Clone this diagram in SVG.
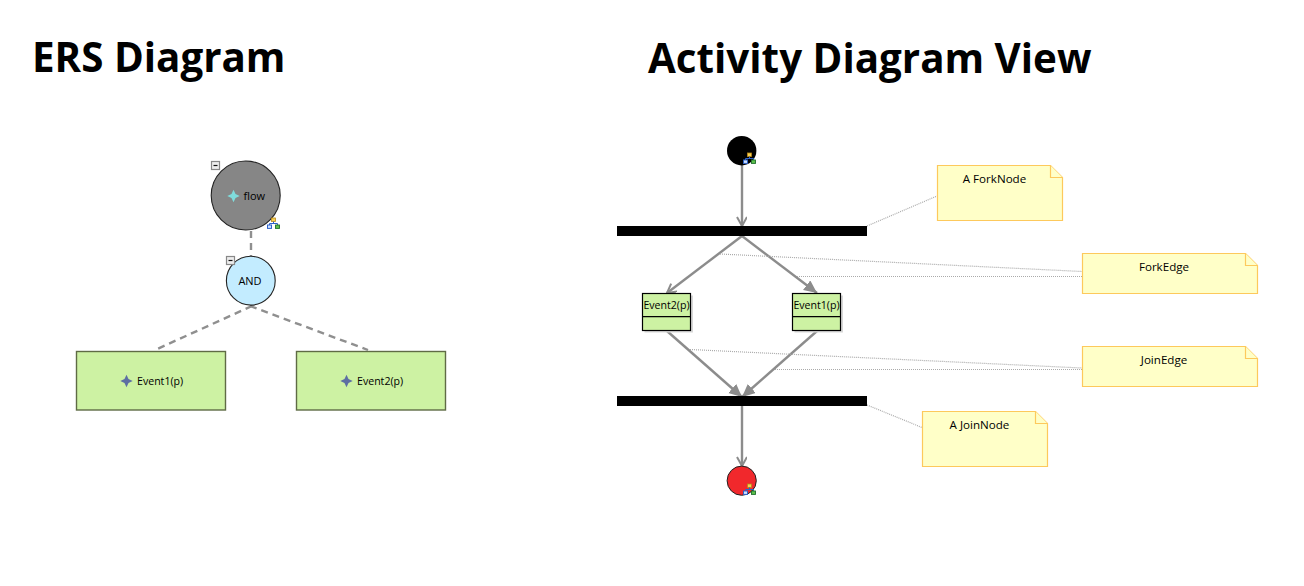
<svg xmlns="http://www.w3.org/2000/svg" width="1304" height="586" viewBox="0 0 1304 586">
<defs>
<style>
text{font-family:"Open Sans","Noto Sans","Liberation Sans",sans-serif;font-size:11px;fill:#000}
.title{font-size:40.35px;font-weight:700;fill:#000}
.nt{font-size:11.6px}
.ev{font-size:10.6px}
.edge{stroke:#8c8c8c;stroke-width:2.4;fill:none}
.dash{stroke:#8f8f8f;stroke-width:2.4;stroke-dasharray:7 5;fill:none}
.dot{stroke:#aaa;stroke-width:1.2;stroke-dasharray:1 1;fill:none}
.ers{fill:#cdf2a3;stroke:#5f6b45;stroke-width:1.4}
.evt{fill:#cdf2a3;stroke:#000;stroke-width:1.2}
.sh{fill:#d8d8d8}
.note{fill:#ffffc8;stroke:#fdc95c;stroke-width:1.2}
.bar{fill:#000}
.mn{fill:#eee;stroke:#888;stroke-width:1.2}
</style>
<marker id="arr" markerWidth="12" markerHeight="12" refX="10" refY="5" orient="auto" markerUnits="userSpaceOnUse"><path d="M1 0L10 5L1 10" fill="none" stroke="#8c8c8c" stroke-width="2"/></marker>
<marker id="arf" markerWidth="16" markerHeight="14" refX="13" refY="6" orient="auto" markerUnits="userSpaceOnUse"><path d="M0 0L13 6L0 12Z" fill="#8c8c8c"/></marker>
<g id="hier"><rect x="0" y="0" width="4" height="3.5" fill="#f6d050" stroke="#b8861a" stroke-width=".8"/><path d="M2 3.5V5.5M-2 7.5V5.5H6V7.5" fill="none" stroke="#2f62c8" stroke-width="1"/><rect x="-4" y="7" width="4" height="3.4" fill="#cfe2ff" stroke="#2f62c8" stroke-width="1"/><rect x="4" y="7" width="4" height="3.4" fill="#5cc04c" stroke="#1f6d2b" stroke-width=".9"/></g>
<path id="star" d="M0-6.2L2-2L6.2 0L2 2L0 6.2L-2 2L-6.2 0L-2-2Z"/>
</defs>
<rect width="1304" height="586" fill="#fff"/>
<text class="title" x="32" y="72">ERS Diagram</text>
<text class="title" x="648" y="73">Activity Diagram View</text>
<g id="connectors">
<path class="dash" d="M251 231V256"/>
<path class="dash" d="M252 306L155 350"/>
<path class="dash" d="M250 306L368 350"/>
<path class="edge" marker-end="url(#arr)" d="M742 165V226"/>
<path class="edge" marker-end="url(#arr)" d="M742 236L667 293"/>
<path class="edge" marker-end="url(#arf)" d="M742 236L817 293"/>
<path class="edge" marker-end="url(#arf)" d="M667 331L742 397"/>
<path class="edge" marker-end="url(#arf)" d="M817 331L742 397"/>
<path class="edge" marker-end="url(#arr)" d="M742 406V466"/>
<path class="dot" d="M867 226L937 196"/>
<path class="dot" d="M720 254L1082 271.5"/>
<path class="dot" d="M797 276.5H1082"/>
<path class="dot" d="M690 349.5L1082 368"/>
<path class="dot" d="M775 369.5H1082"/>
<path class="dot" d="M867 405L922 427.5"/>
</g>
<g id="flow">
<circle cx="245.7" cy="195.5" r="34.5" fill="#868686" stroke="#222" stroke-width="1.1"/>
<rect class="mn" x="211.5" y="161.5" width="8" height="8"/><path d="M213.5 165.5h4" stroke="#111" stroke-width="1.2"/>
<use href="#star" x="233.5" y="196" fill="#7fdcdc"/>
<text x="243.5" y="199.5">flow</text>
<use href="#hier" x="271.5" y="218"/>
</g>
<g id="and">
<circle cx="250.8" cy="280.7" r="24.4" fill="#c3ecff" stroke="#222" stroke-width="1.1"/>
<rect class="mn" x="226.5" y="256.5" width="8" height="8"/><path d="M228.5 260.5h4" stroke="#111" stroke-width="1.2"/>
<text x="250" y="284.5" text-anchor="middle">AND</text>
</g>
<g id="ers-event1">
<rect class="ers" x="76.5" y="351.5" width="149" height="58.5"/>
<use href="#star" x="126.5" y="381" fill="#5d6fa3"/>
<text class="ev" x="137" y="385">Event1(p)</text>
</g>
<g id="ers-event2">
<rect class="ers" x="296.5" y="351.5" width="149" height="58.5"/>
<use href="#star" x="346.5" y="381" fill="#5d6fa3"/>
<text class="ev" x="357" y="385">Event2(p)</text>
</g>
<g id="initial">
<circle cx="741.7" cy="150.7" r="14.7" fill="#000"/>
<use href="#hier" x="747.5" y="153"/>
</g>
<g id="fork"><rect class="bar" x="617" y="226" width="250" height="10"/></g>
<g id="activity-event2">
<rect class="sh" x="644.5" y="295.5" width="48.5" height="37"/>
<rect class="evt" x="642.5" y="293.5" width="48" height="37"/>
<path d="M642.5 316.7H690.5" stroke="#000" stroke-width="1.2"/>
<text class="ev" x="666.5" y="309" text-anchor="middle">Event2(p)</text>
</g>
<g id="activity-event1">
<rect class="sh" x="794.5" y="295.5" width="48.5" height="37"/>
<rect class="evt" x="792.5" y="293.5" width="48" height="37"/>
<path d="M792.5 316.7H840.5" stroke="#000" stroke-width="1.2"/>
<text class="ev" x="816.5" y="309" text-anchor="middle">Event1(p)</text>
</g>
<g id="join"><rect class="bar" x="617" y="396" width="250" height="10"/></g>
<g id="final">
<circle cx="741.7" cy="480.7" r="14.6" fill="#f1282c" stroke="#222" stroke-width="1"/>
<use href="#hier" x="747.5" y="484"/>
</g>
<g id="note-forknode">
<path class="note" d="M937.5 165.5H1050.5L1062.5 177.5V220.5H937.5Z"/><path class="note" d="M1050.5 165.5V177.5H1062.5"/>
<text class="nt" x="994.5" y="183" text-anchor="middle">A ForkNode</text>
</g>
<g id="note-forkedge">
<path class="note" d="M1082.5 253.5H1245.5L1257.5 265.5V293.5H1082.5Z"/><path class="note" d="M1245.5 253.5V265.5H1257.5"/>
<text class="nt" x="1164" y="271" text-anchor="middle">ForkEdge</text>
</g>
<g id="note-joinedge">
<path class="note" d="M1082.5 346.5H1245.5L1257.5 358.5V386.5H1082.5Z"/><path class="note" d="M1245.5 346.5V358.5H1257.5"/>
<text class="nt" x="1164" y="364" text-anchor="middle">JoinEdge</text>
</g>
<g id="note-joinnode">
<path class="note" d="M922.5 411.5H1035.5L1047.5 423.5V466.5H922.5Z"/><path class="note" d="M1035.5 411.5V423.5H1047.5"/>
<text class="nt" x="979.5" y="429" text-anchor="middle">A JoinNode</text>
</g>
</svg>
